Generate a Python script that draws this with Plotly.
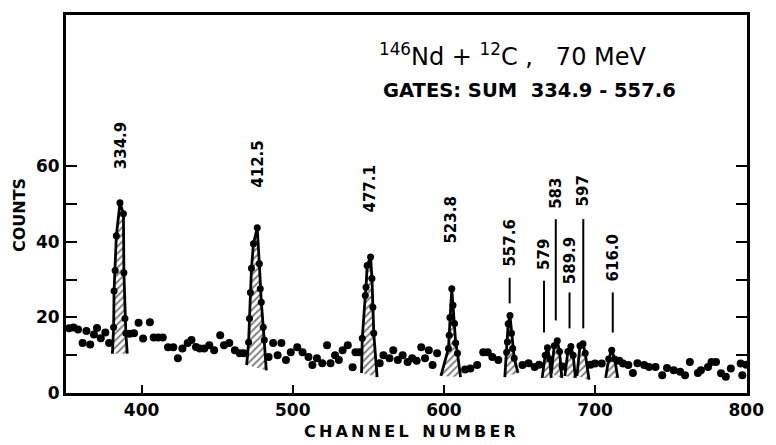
import plotly.graph_objects as go

# ---------------- data ----------------
bg_ch = [352, 355, 358, 361, 363.5, 366, 368.5, 370.5, 373, 376, 378.5,
         392, 395, 398, 401, 405.5, 408, 411, 414, 417.5, 421, 424, 427, 430.5, 433,
         436, 438.5, 441.5, 444.8, 448, 452, 454.5, 458, 461.7, 465, 467.5,
         484, 487, 490, 492.5, 495.5, 498.7, 503, 506.5, 510.4, 513, 516, 519.5,
         522.7, 525, 528, 530.5, 533, 536.4, 539.6, 541.5, 544,
         557.5, 560, 564, 566.5, 569.5, 572.7, 576, 579, 582, 585, 587.5, 590, 592.5, 595.5,
         614, 617.5, 622, 626, 629, 632, 636,
         652, 656, 660, 663, 678.5, 697, 700, 704.4,
         716, 718.5, 722, 725, 728, 732.5, 735.7, 740, 744.4, 747.6, 752, 756.3,
         759.5, 762.7, 768, 770, 774.7, 777, 780, 783.3, 786.5, 789.8, 796.3, 797.4, 800]
bg_cnt = [17.1, 17.3, 16.8, 13.2, 16.4, 12.8, 15.5, 17.2, 14.5, 16.0, 13.2,
          15.7, 15.8, 18.6, 14.4, 18.7, 14.7, 14.7, 14.7, 12.1, 12.1, 9.2, 11.8, 13.2, 14.0,
          12.2, 11.8, 11.8, 12.6, 11.3, 15.3, 12.6, 13.2, 11.3, 10.5, 10.5,
          9.5, 13.2, 10.0, 13.2, 8.7, 10.8, 12.1, 10.8, 9.5, 7.4, 9.2, 7.9,
          12.6, 7.9, 10.0, 8.7, 11.3, 12.6, 6.8, 10.8, 10.8,
          7.9, 10.0, 9.2, 11.3, 8.7, 10.0, 8.2, 9.2, 8.5, 12.1, 9.2, 11.3, 7.4, 10.5,
          6.2, 6.5, 7.4, 10.8, 10.8, 9.5, 8.7,
          7.4, 7.9, 6.9, 7.5, 7.0, 7.5, 7.8, 7.8,
          8.5, 7.8, 7.4, 5.3, 7.9, 7.4, 6.9, 6.9, 4.7, 6.6, 6.0, 5.6,
          4.7, 8.2, 5.3, 6.0, 6.9, 8.2, 8.2, 5.2, 4.3, 6.5, 7.8, 4.7, 7.5]

# peaks: first and last entries are the base points of the hatched area
pk_334_ch = [380.7, 381.5, 381.8, 382.5, 383.3, 385.7, 388.0, 388.3, 389.0, 389.6, 390.5]
pk_334_cnt = [10.4, 17.4, 27.0, 32.4, 41.6, 50.3, 47.4, 31.8, 19.7, 15.8, 10.4]
pk_412_ch = [469.5, 470.8, 471.4, 472.0, 472.7, 474.0, 476.5, 477.9, 478.5, 479.2, 480.5, 481.2, 482.5]
pk_412_cnt = [7.4, 13.4, 19.7, 26.6, 33.0, 39.5, 43.7, 34.2, 27.6, 24.0, 17.4, 14.0, 6.0]
pk_477_ch = [545.5, 546.0, 548.0, 548.5, 549.2, 551.5, 552.4, 553.0, 553.6, 555.8]
pk_477_cnt = [5.3, 14.5, 25.8, 28.0, 33.7, 36.0, 30.3, 22.7, 15.8, 4.2]
pk_523_ch = [598.0, 603.0, 603.5, 604.0, 605.2, 606.0, 607.0, 607.8, 609.0, 611.0]
pk_523_cnt = [4.5, 11.8, 15.3, 20.0, 27.6, 23.2, 18.4, 13.2, 10.5, 4.2]
pk_557_ch = [640.3, 641.5, 642.0, 642.5, 643.7, 644.7, 645.5, 646.5, 649.0]
pk_557_cnt = [4.2, 10.8, 13.5, 18.3, 20.5, 15.8, 11.8, 9.2, 5.3]
pk_579_ch = [665.0, 667.0, 668.5, 670.0, 671.0]
pk_579_cnt = [4.0, 10.0, 12.0, 9.0, 4.0]
pk_583_ch = [671.0, 673.0, 675.0, 676.5, 678.0]
pk_583_cnt = [5.0, 12.5, 13.8, 11.0, 4.0]
pk_589_ch = [680.0, 682.0, 684.0, 685.5, 687.0]
pk_589_cnt = [4.5, 11.0, 12.3, 10.0, 4.0]
pk_597_ch = [688.0, 690.0, 692.0, 693.5, 696.0]
pk_597_cnt = [4.5, 12.5, 13.0, 10.5, 3.5]
pk_616_ch = [707.0, 709.0, 711.0, 713.0, 715.0]
pk_616_cnt = [4.0, 9.0, 11.3, 9.0, 4.0]

peak_labels = ["334.9", "412.5", "477.1", "523.8", "557.6", "579", "583", "589.9", "597", "616.0"]
label_ch = [386.4, 477.3, 551.3, 604.5, 643.5, 666.2, 674.0, 683.1, 692.2, 711.7]

x_ticks = [400, 500, 600, 700, 800]
y_ticks = [0, 20, 40, 60]
y_minor_ticks = [10, 30, 50]

# ---------------- layout settings ----------------
label_y = [65.3, 60.5, 53.9, 45.8, 39.7, 36.8, 52.9, 35.0, 53.4, 35.8]
label_line = [None, None, None, None, (30.5, 23.7), (29.7, 16.0), (46.0, 19.2),
              (26.6, 17.1), (46.0, 17.1), (26.6, 16.0)]

FONT = "DejaVu Sans"
fig = go.Figure()

peaks = [(pk_334_ch, pk_334_cnt), (pk_412_ch, pk_412_cnt), (pk_477_ch, pk_477_cnt),
         (pk_523_ch, pk_523_cnt), (pk_557_ch, pk_557_cnt), (pk_579_ch, pk_579_cnt),
         (pk_583_ch, pk_583_cnt), (pk_589_ch, pk_589_cnt), (pk_597_ch, pk_597_cnt),
         (pk_616_ch, pk_616_cnt)]

for ch, cnt in peaks:
    fig.add_trace(go.Scatter(
        x=ch, y=cnt, mode="lines", fill="toself",
        line=dict(color="black", width=2.8),
        fillcolor="white",
        fillpattern=dict(shape="/", fgcolor="black", bgcolor="white", size=5, solidity=0.4),
        hoverinfo="skip", showlegend=False))
    fig.add_trace(go.Scatter(
        x=ch[1:-1], y=cnt[1:-1], mode="markers",
        marker=dict(color="black", size=7),
        showlegend=False))

fig.add_trace(go.Scatter(x=bg_ch, y=bg_cnt, mode="markers",
                         marker=dict(color="black", size=8), showlegend=False))

annotations = []
shapes = []
for lab, xc, yc, ln in zip(peak_labels, label_ch, label_y, label_line):
    annotations.append(dict(x=xc, y=yc, xref="x", yref="y", text=lab, showarrow=False,
                            textangle=-90, xanchor="center", yanchor="middle",
                            font=dict(family=FONT, size=15, color="black", weight="bold")))
    if ln is not None:
        shapes.append(dict(type="line", xref="x", yref="y", x0=xc, x1=xc, y0=ln[0], y1=ln[1],
                           line=dict(color="black", width=2)))

annotations += [
    dict(x=0.656, y=0.895, xref="paper", yref="paper", showarrow=False,
         text="<sup>146</sup>Nd + <sup>12</sup>C ,   70 MeV",
         font=dict(family=FONT, size=24, color="black"), xanchor="center", yanchor="middle"),
    dict(x=0.68, y=0.800, xref="paper", yref="paper", showarrow=False,
         text="GATES: SUM  334.9 - 557.6",
         font=dict(family=FONT, size=19.5, color="black", weight="bold"),
         xanchor="center", yanchor="middle"),
    dict(x=-0.068, y=0.47, xref="paper", yref="paper", showarrow=False, text="COUNTS",
         textangle=-90, font=dict(family=FONT, size=16, color="black", weight="bold"),
         xanchor="center", yanchor="middle"),
    dict(x=0.505, y=-0.103, xref="paper", yref="paper", showarrow=False,
         text="C\u2009H\u2009A\u2009N\u2009N\u2009E\u2009L\u2002 N\u2009U\u2009M\u2009B\u2009E\u2009R",
         font=dict(family=FONT, size=16, color="black", weight="bold"),
         xanchor="center", yanchor="middle"),
]

fig.update_layout(
    width=776, height=445,
    margin=dict(l=66, r=16, t=12, b=52),
    paper_bgcolor="white", plot_bgcolor="white",
    annotations=annotations, shapes=shapes,
    xaxis=dict(range=[350, 800.5], tickvals=x_ticks, ticks="inside", ticklen=8, tickwidth=2,
               tickcolor="black", showline=True, linewidth=3, linecolor="black", mirror=True,
               showgrid=False, zeroline=False, ticklabeloverflow="allow",
               tickfont=dict(family=FONT, size=17, color="black", weight="bold")),
    yaxis=dict(range=[0, 100], tickvals=y_ticks, ticks="inside",
               ticklen=11, tickwidth=2, tickcolor="black", showline=True, linewidth=3,
               linecolor="black", mirror="ticks", showgrid=False, zeroline=False,
               minor=dict(tickvals=y_minor_ticks, ticks="inside", ticklen=11, tickwidth=2,
                          tickcolor="black"),
               tickfont=dict(family=FONT, size=17, color="black", weight="bold")),
)

fig.write_html("out.html", config={"displayModeBar": False},
               post_script="document.body.style.margin='0';")
